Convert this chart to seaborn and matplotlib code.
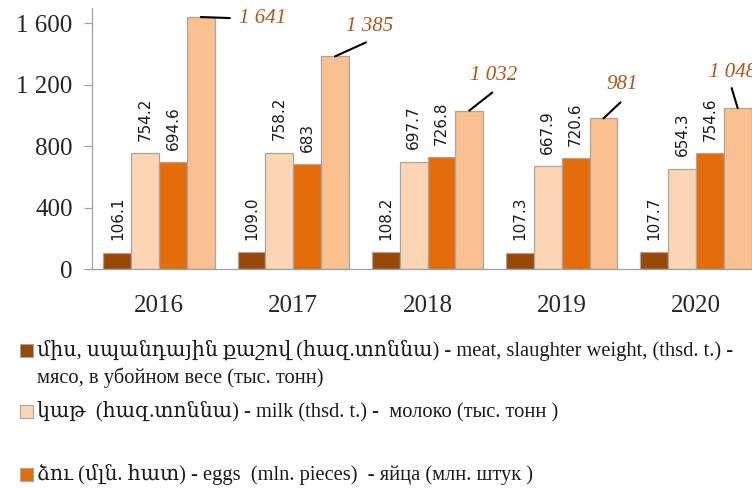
import matplotlib
matplotlib.use("Agg")
import matplotlib.pyplot as plt
from matplotlib.patches import Rectangle
import seaborn as sns
import pandas as pd

# data
years = ["2016", "2017", "2018", "2019", "2020"]
meat = [106.1, 109.0, 108.2, 107.3, 107.7]
milk = [754.2, 758.2, 697.7, 667.9, 654.3]
eggs = [694.6, 683.0, 726.8, 720.6, 754.6]
fourth = [1641, 1385, 1032, 981, 1048]

meat_labels = ["106.1", "109.0", "108.2", "107.3", "107.7"]
milk_labels = ["754.2", "758.2", "697.7", "667.9", "654.3"]
eggs_labels = ["694.6", "683", "726.8", "720.6", "754.6"]
fourth_labels = ["1 641", "1 385", "1 032", "981", "1 048"]

series = ["meat", "milk", "eggs", "fourth"]
colors = ["#984807", "#FCD5B5", "#E46C0A", "#FAC090"]
legend_texts = [
    "միս, սպանդային քաշով (հազ.տոննա) - meat, slaughter weight, (thsd. t.) -\nмясо, в убойном весе (тыс. тонн)",
    "կաթ  (հազ.տոննա) - milk (thsd. t.) -  молоко (тыс. тонн )",
    "ձու (մլն. հատ) - eggs  (mln. pieces)  - яйца (млн. штук )",
]

rows = []
for name, vals in zip(series, [meat, milk, eggs, fourth]):
    for y, v in zip(years, vals):
        rows.append({"year": y, "value": v, "series": name})
df = pd.DataFrame(rows)

sns.set_style("white")
serif = ["Liberation Serif", "DejaVu Serif", "DejaVu Sans"]

fig = plt.figure(figsize=(7.52, 4.88), dpi=100)
ax = fig.add_axes([92 / 752, 1 - 269 / 488, 671 / 752, 261 / 488])

sns.barplot(data=df, x="year", y="value", hue="series", hue_order=series,
            palette=colors, width=0.83, saturation=1, edgecolor="#A6A6A6",
            linewidth=0.9, legend=False, errorbar=None, ax=ax)

ax.set_xlim(-0.5, 4.5)
ax.set_ylim(0, 1700)
ax.set_yticks([0, 400, 800, 1200, 1600])
ax.set_yticklabels(["0", "400", "800", "1 200", "1 600"], family=serif, fontsize=18)
ax.set_xticks(range(len(years)))
ax.set_xticklabels(years, family=serif, fontsize=18)
ax.set_xticks([i - 0.5 for i in range(len(years) + 1)], minor=True)
ax.tick_params(axis="x", which="major", length=0, pad=19)
ax.tick_params(axis="x", which="minor", length=6, color="#A0A0A0", width=0.9)
ax.tick_params(axis="y", length=6, color="#A0A0A0", width=0.9, pad=8, left=True)
ax.set_xlabel("")
ax.set_ylabel("")
for s in ["top", "right"]:
    ax.spines[s].set_visible(False)
for s in ["left", "bottom"]:
    ax.spines[s].set_color("#A0A0A0")
    ax.spines[s].set_linewidth(0.9)

# rotated value labels on first three series
for cont, labs in zip(ax.containers[:3], [meat_labels, milk_labels, eggs_labels]):
    ax.bar_label(cont, labels=labs, rotation=90, padding=9, fontsize=11,
                 family="DejaVu Sans", color="#1a1a1a")

# callouts for fourth series (line end offset, text centre offset in px)
line_off = [(29, -1), (31, 14), (23, 18), (17, 16), (-6, 20)]
text_off = [(62, -1), (35, 30), (24, 35), (19, 34), (-5, 36)]
for bar, lab, lo, to in zip(ax.containers[3], fourth_labels, line_off, text_off):
    xc = bar.get_x() + bar.get_width() / 2
    top = bar.get_height()
    ax.annotate("", xy=(xc, top), xytext=lo, textcoords="offset pixels",
                arrowprops=dict(arrowstyle="-", color="black", lw=1.5,
                                shrinkA=0, shrinkB=0), annotation_clip=False)
    ax.annotate(lab, xy=(xc, top), xytext=to, textcoords="offset pixels",
                ha="center", va="center", fontsize=15, style="italic",
                family=serif, color="#A9581C", annotation_clip=False)

# legend drawn below the axes
leg_y = [350, 411, 474]
for col, txt, yy in zip(colors[:3], legend_texts, leg_y):
    fig.patches.append(Rectangle((20 / 752, 1 - (yy + 6.5) / 488), 13 / 752, 13 / 488,
                                 transform=fig.transFigure, facecolor=col,
                                 edgecolor="#A6A6A6", linewidth=0.8))
    if "\n" in txt:
        fig.text(37 / 752, 1 - (yy - 10) / 488, txt, ha="left", va="top",
                 fontsize=14.8, family=serif, color="#1a1a1a", linespacing=1.45)
    else:
        fig.text(37 / 752, 1 - yy / 488, txt, ha="left", va="center",
                 fontsize=14.8, family=serif, color="#1a1a1a")

fig.savefig("out.png", dpi=100)
